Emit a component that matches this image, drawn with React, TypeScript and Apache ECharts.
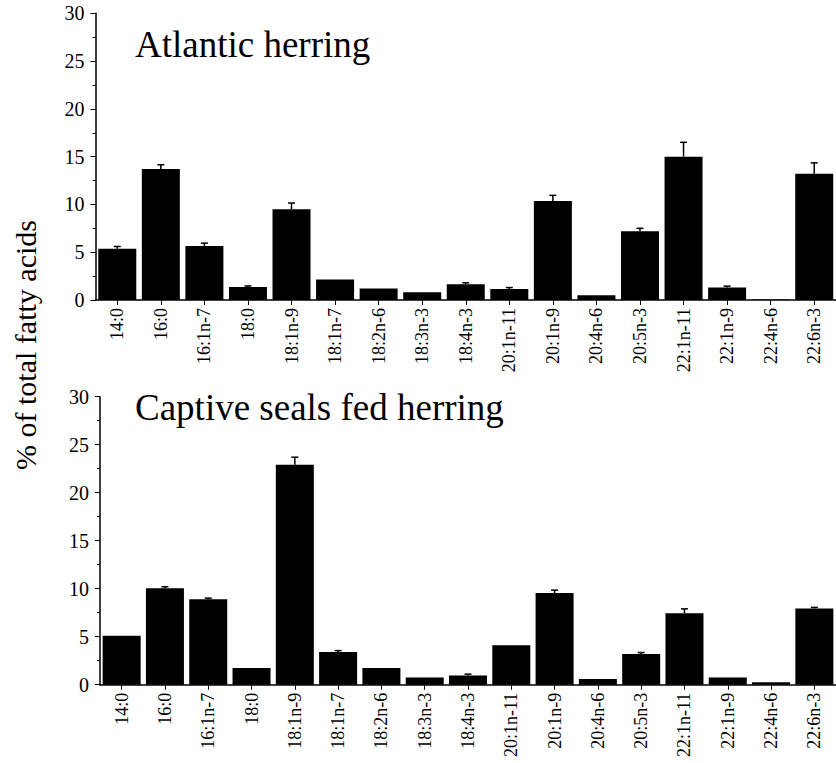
import React, { useEffect, useRef } from "react";
import * as echarts from "echarts";

const categories = [
  "14:0", "16:0", "16:1n-7", "18:0", "18:1n-9", "18:1n-7", "18:2n-6", "18:3n-3", "18:4n-3",
  "20:1n-11", "20:1n-9", "20:4n-6", "20:5n-3", "22:1n-11", "22:1n-9", "22:4n-6", "22:6n-3",
];
const herringValues = [5.35, 13.7, 5.65, 1.35, 9.5, 2.15, 1.2, 0.8, 1.65, 1.15, 10.35, 0.5, 7.2, 15.0, 1.3, 0.05, 13.2];
const herringErrors = [0.25, 0.45, 0.3, 0.12, 0.65, 0, 0, 0, 0.15, 0.15, 0.6, 0, 0.3, 1.5, 0.15, 0, 1.15];
const sealValues = [5.1, 10.05, 8.9, 1.75, 22.9, 3.4, 1.75, 0.75, 0.95, 4.1, 9.55, 0.6, 3.2, 7.45, 0.75, 0.25, 7.95];
const sealErrors = [0, 0.15, 0.12, 0, 0.8, 0.15, 0, 0, 0.15, 0, 0.3, 0, 0.15, 0.45, 0, 0, 0.1];
const yTicks = { min: 0, max: 30, interval: 5 };
const titles = ["Atlantic herring", "Captive seals fed herring"];
const yAxisTitle = "% of total fatty acids";

const FONT = "Times New Roman";

export default function App() {
  const ref = useRef<HTMLDivElement>(null);
  useEffect(() => {
    if (!ref.current) return;
    const chart = echarts.init(ref.current, null, { renderer: "svg" });

    const makeX = (gridIndex: number) => ({
      type: "category",
      gridIndex,
      data: categories,
      axisLine: { show: true, lineStyle: { color: "#000", width: 1.5 } },
      axisTick: { show: true, alignWithLabel: true, length: 5, lineStyle: { color: "#000", width: 1 } },
      axisLabel: { rotate: 90, fontSize: 18, margin: 8, color: "#000", fontFamily: FONT, interval: 0 },
      splitLine: { show: false },
    });
    const makeY = (gridIndex: number) => ({
      type: "value",
      gridIndex,
      min: yTicks.min,
      max: yTicks.max,
      interval: yTicks.interval,
      axisLine: { show: true, lineStyle: { color: "#000", width: 1.5 } },
      axisTick: { show: true, length: 5, lineStyle: { color: "#000", width: 1 } },
      minorTick: { show: true, splitNumber: 2, length: 3, lineStyle: { color: "#000", width: 1 } },
      axisLabel: { fontSize: 20, margin: 11, color: "#000", fontFamily: FONT },
      splitLine: { show: false },
    });

    const errRender = (params: any, api: any) => {
      const idx = api.value(0);
      const v = api.value(1);
      const e = api.value(2);
      if (!e) return null;
      const p0 = api.coord([idx, v]);
      const p1 = api.coord([idx, v + e]);
      const hw = 3.5;
      return {
        type: "group",
        children: [
          { type: "line", shape: { x1: p0[0], y1: p0[1], x2: p1[0], y2: p1[1] }, style: { stroke: "#000", lineWidth: 1.5 } },
          { type: "line", shape: { x1: p1[0] - hw, y1: p1[1], x2: p1[0] + hw, y2: p1[1] }, style: { stroke: "#000", lineWidth: 1.5 } },
        ],
      };
    };

    chart.setOption({
      animation: false,
      backgroundColor: "#fff",
      textStyle: { fontFamily: FONT },
      grid: [
        { left: 95.5, top: 13.3, width: 747, height: 286.7 },
        { left: 100, top: 396.7, width: 750, height: 288 },
      ],
      xAxis: [makeX(0), makeX(1)],
      yAxis: [makeY(0), makeY(1)],
      graphic: [
        {
          type: "text",
          x: 135,
          y: 44,
          style: { text: titles[0], fontSize: 37, fontFamily: FONT, fill: "#000", textAlign: "left", textVerticalAlign: "middle" },
        },
        {
          type: "text",
          x: 135,
          y: 407.5,
          style: { text: titles[1], fontSize: 37, fontFamily: FONT, fill: "#000", textAlign: "left", textVerticalAlign: "middle" },
        },
        {
          type: "text",
          x: 25.5,
          y: 345,
          rotation: Math.PI / 2,
          style: { text: yAxisTitle, fontSize: 30, fontFamily: FONT, fill: "#000", textAlign: "center", textVerticalAlign: "middle" },
        },
      ],
      series: [
        {
          type: "bar",
          xAxisIndex: 0,
          yAxisIndex: 0,
          data: herringValues,
          barWidth: 38,
          itemStyle: { color: "#000" },
        },
        {
          type: "custom",
          xAxisIndex: 0,
          yAxisIndex: 0,
          renderItem: errRender,
          data: herringValues.map((v, i) => [i, v, herringErrors[i]]),
          z: 3,
        },
        {
          type: "bar",
          xAxisIndex: 1,
          yAxisIndex: 1,
          data: sealValues,
          barWidth: 38,
          itemStyle: { color: "#000" },
        },
        {
          type: "custom",
          xAxisIndex: 1,
          yAxisIndex: 1,
          renderItem: errRender,
          data: sealValues.map((v, i) => [i, v, sealErrors[i]]),
          z: 3,
        },
      ],
    });
    return () => chart.dispose();
  }, []);
  return (
    <div
      ref={ref}
      style={{ position: "fixed", left: 0, top: 0, width: 836, height: 763, background: "#fff", fontFamily: "Liberation Serif" }}
    />
  );
}
